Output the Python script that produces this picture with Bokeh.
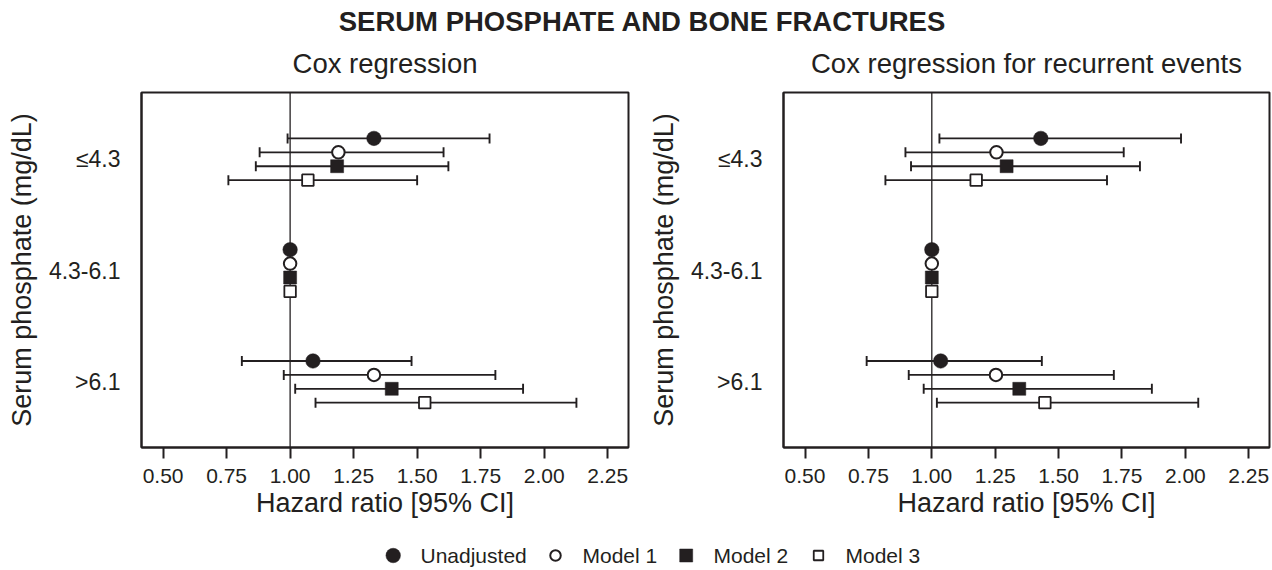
import math
from bokeh.plotting import figure
from bokeh.models import (ColumnDataSource, Range1d, FixedTicker, PrintfTickFormatter,
                          Span, Whisker, TeeHead)
from bokeh.layouts import column, row
from bokeh.embed import file_html
from bokeh.resources import INLINE
from bokeh.core.properties import value

# ---------------- data ----------------
main_title = "SERUM PHOSPHATE AND BONE FRACTURES"
panel_titles = ["Cox regression", "Cox regression for recurrent events"]
groups = ["≤4.3", "4.3-6.1", ">6.1"]
group_pos = [3, 2, 1]
models = ["Unadjusted", "Model 1", "Model 2", "Model 3"]
x_ticks = [0.5, 0.75, 1.0, 1.25, 1.5, 1.75, 2.0, 2.25]
x_label = "Hazard ratio [95% CI]"
y_label = "Serum phosphate (mg/dL)"
NA = float("nan")

# Cox regression (groups order: <=4.3, 4.3-6.1 (reference), >6.1)
cox_hr = {
    "Unadjusted": [1.33, 1.00, 1.09],
    "Model 1":    [1.19, 1.00, 1.33],
    "Model 2":    [1.185, 1.00, 1.40],
    "Model 3":    [1.07, 1.00, 1.53],
}
cox_lo = {
    "Unadjusted": [0.99, NA, 0.81],
    "Model 1":    [0.88, NA, 0.975],
    "Model 2":    [0.865, NA, 1.02],
    "Model 3":    [0.757, NA, 1.10],
}
cox_hi = {
    "Unadjusted": [1.785, NA, 1.478],
    "Model 1":    [1.604, NA, 1.808],
    "Model 2":    [1.623, NA, 1.917],
    "Model 3":    [1.50, NA, 2.127],
}

# Cox regression for recurrent events
rec_hr = {
    "Unadjusted": [1.43, 1.00, 1.035],
    "Model 1":    [1.255, 1.00, 1.253],
    "Model 2":    [1.295, 1.00, 1.345],
    "Model 3":    [1.175, 1.00, 1.446],
}
rec_lo = {
    "Unadjusted": [1.03, NA, 0.743],
    "Model 1":    [0.896, NA, 0.909],
    "Model 2":    [0.918, NA, 0.968],
    "Model 3":    [0.817, NA, 1.02],
}
rec_hi = {
    "Unadjusted": [1.983, NA, 1.434],
    "Model 1":    [1.757, NA, 1.718],
    "Model 2":    [1.821, NA, 1.868],
    "Model 3":    [1.691, NA, 2.051],
}

# ---------------- style ----------------
INK = "#231F20"
FONT = "Liberation Sans"
offsets = [0.1875, 0.0625, -0.0625, -0.1875]
styles = {
    "Unadjusted": dict(marker="circle", size=14.5, fill_color=INK, line_width=0.5),
    "Model 1":    dict(marker="circle", size=12.5, fill_color="white", line_width=2),
    "Model 2":    dict(marker="square", size=13, fill_color=INK, line_width=0.5),
    "Model 3":    dict(marker="square", size=11.5, fill_color="white", line_width=1.8),
}


def make_panel(hr, lo, hi, width, border_left, border_right):
    p = figure(width=width, height=446,
               x_range=Range1d(0.415, 2.332), y_range=Range1d(0.41, 3.6),
               output_backend="svg", toolbar_location=None,
               min_border_left=border_left, min_border_right=border_right,
               min_border_top=8, min_border_bottom=83)
    p.xgrid.visible = False
    p.ygrid.visible = False
    p.outline_line_color = INK
    p.outline_line_width = 2
    p.background_fill_color = "white"
    p.border_fill_color = "white"

    p.add_layout(Span(location=1, dimension="height", line_color=INK,
                      line_width=1.3, level="underlay"))

    for i, m in enumerate(models):
        ys = [g + offsets[i] for g in group_pos]
        keep = [k for k in range(len(groups)) if not math.isnan(lo[m][k])]
        ci = ColumnDataSource(dict(y=[ys[k] for k in keep],
                                   lo=[lo[m][k] for k in keep],
                                   hi=[hi[m][k] for k in keep]))
        w = Whisker(source=ci, base="y", lower="lo", upper="hi", dimension="width",
                    line_color=INK, line_width=1.8, level="underlay",
                    lower_head=TeeHead(size=10, line_color=INK, line_width=1.9),
                    upper_head=TeeHead(size=10, line_color=INK, line_width=1.9))
        p.add_layout(w)
        src = ColumnDataSource(dict(x=hr[m], y=ys))
        st = styles[m]
        p.scatter("x", "y", source=src, marker=st["marker"], size=st["size"],
                  fill_color=st["fill_color"], line_color=INK, line_width=st["line_width"])

    xa = p.xaxis[0]
    xa.ticker = FixedTicker(ticks=x_ticks)
    xa.formatter = PrintfTickFormatter(format="%.2f")
    xa.axis_label = x_label
    xa.axis_label_text_font = FONT
    xa.axis_label_text_font_size = "27px"
    xa.axis_label_text_font_style = "normal"
    xa.axis_label_text_color = INK
    xa.axis_label_standoff = 2
    xa.major_label_text_font = FONT
    xa.major_label_text_font_size = "21px"
    xa.major_label_text_color = INK
    xa.major_label_standoff = 10
    xa.major_tick_out = 11
    xa.major_tick_in = 0
    xa.major_tick_line_width = 2
    xa.major_tick_line_color = INK
    xa.minor_tick_line_color = None
    xa.axis_line_color = INK
    xa.axis_line_width = 2

    ya = p.yaxis[0]
    ya.ticker = FixedTicker(ticks=group_pos)
    ya.major_label_overrides = {g: lab for g, lab in zip(group_pos, groups)}
    ya.axis_label = y_label
    ya.axis_label_text_font = FONT
    ya.axis_label_text_font_size = "27px"
    ya.axis_label_text_font_style = "normal"
    ya.axis_label_text_color = INK
    ya.axis_label_standoff = 9
    ya.major_label_text_font = FONT
    ya.major_label_text_font_size = "23px"
    ya.major_label_text_color = INK
    ya.major_label_standoff = 21
    ya.major_tick_out = 0
    ya.major_tick_in = 0
    ya.major_tick_line_color = None
    ya.minor_tick_line_color = None
    ya.axis_line_color = INK
    ya.axis_line_width = 2
    return p


def blank(width, height, x0, x1, y0, y1):
    f = figure(width=width, height=height, x_range=Range1d(x0, x1), y_range=Range1d(y1, y0),
               output_backend="svg", toolbar_location=None, min_border=0)
    f.axis.visible = False
    f.grid.visible = False
    f.outline_line_color = None
    f.background_fill_color = "white"
    f.border_fill_color = "white"
    return f


# title strip (page pixel coordinates)
pt = blank(1272, 84, 0, 1272, 0, 84)
pt.text(x=[642], y=[21], text=[main_title], text_font=value(FONT), text_font_size="27.5px",
        text_font_style="bold", text_align="center", text_baseline="middle", text_color=INK)
pt.text(x=[384.5, 1026], y=[63, 63], text=panel_titles, text_font=value(FONT),
        text_font_size="27.5px", text_align="center", text_baseline="middle", text_color=INK)

p1 = make_panel(cox_hr, cox_lo, cox_hi, 640, 141, 12)
p2 = make_panel(rec_hr, rec_lo, rec_hi, 632, 143, 3)

# legend strip
pl = blank(1272, 38, 0, 1272, 530, 568)
leg_marker_x = [392.7, 555, 685.7, 818]
leg_text_x = [420, 582, 713, 845]
leg_y = 555
for i, m in enumerate(models):
    st = styles[m]
    pl.scatter([leg_marker_x[i]], [leg_y], marker=st["marker"],
               size=st["size"] - (2 if st["fill_color"] == "white" else 0),
               fill_color=st["fill_color"], line_color=INK, line_width=st["line_width"])
pl.text(x=leg_text_x, y=[leg_y] * 4, text=models, text_font=value(FONT), text_font_size="21px",
        text_align="left", text_baseline="middle", text_color=INK)

layout = column(pt, row(p1, p2), pl)
open("out.html", "w").write(file_html(layout, INLINE))
